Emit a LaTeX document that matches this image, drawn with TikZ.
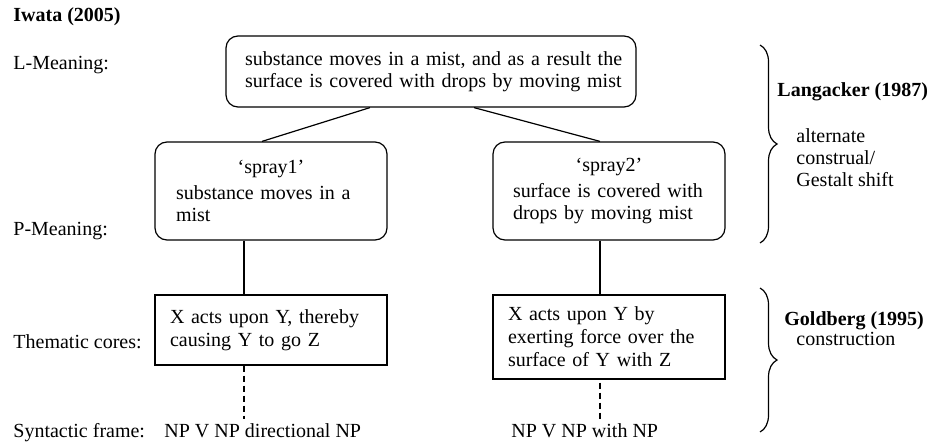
\documentclass[tikz,border=0pt]{standalone}
\usepackage{fontspec}
\setmainfont{Liberation Serif}
\usetikzlibrary{decorations.pathreplacing,calc}
\begin{document}
\begin{tikzpicture}[x=0.5pt,y=-0.5pt,
  font=\fontsize{10}{11}\selectfont,
  lbl/.style={anchor=base west, inner sep=0pt},
  boldlbl/.style={anchor=base west, inner sep=0pt, font=\fontsize{10}{11}\selectfont\bfseries},
  mbox/.style={draw, line width=0.6pt, align=left, inner ysep=0pt, anchor=center},
  rnd/.style={rounded corners=6pt},
  conn/.style={line width=0.6pt},
  dashline/.style={line width=0.6pt, dash pattern=on 3pt off 2pt},
  bracestyle/.style={decorate, decoration={brace, amplitude=8.5pt}, line width=0.6pt}]
\useasboundingbox (0,0) rectangle (930,444);

% left labels
\node[boldlbl] (iwata) at (13,22) {Iwata (2005)};
\node[lbl] (lmean) at (13,70) {L-Meaning:};
\node[lbl] (pmean) at (13,235) {P-Meaning:};
\node[lbl] (thcore) at (13,348) {Thematic cores:};
\node[lbl] (synfr) at (13,437) {Syntactic frame:};

% boxes
\node[mbox, rnd, text width=186pt, inner xsep=9.5pt, minimum height=35.5pt] (top) at (431,71.5)
  {\mbox{substance moves in a mist, and as a result the}\\\mbox{surface is covered with drops by moving mist}};
\node[mbox, rnd, text width=95pt, inner xsep=10.5pt, minimum height=49pt] (sp1) at (271,191)
  {\makebox[\hsize]{‘spray1’}\\[2pt]\mbox{substance moves in a}\\mist};
\node[mbox, rnd, text width=96pt, inner xsep=10pt, minimum height=49pt] (sp2) at (609,191)
  {\makebox[\hsize]{‘spray2’}\\[2pt]\mbox{surface is covered with}\\\mbox{drops by moving mist}};
\node[mbox, text width=101pt, inner xsep=7.5pt, minimum height=35pt, font=\fontsize{10}{11.5}\selectfont] (th1) at (271,330)
  {\mbox{X acts upon Y, thereby}\\\mbox{causing Y to go Z}};
\node[mbox, text width=101pt, inner xsep=7.5pt, minimum height=42pt, font=\fontsize{10}{11.5}\selectfont] (th2) at (609,337)
  {\mbox{X acts upon Y by}\\\mbox{exerting force over the}\\\mbox{surface of Y with Z}};

% syntactic frames
\node[lbl] (f1) at (164,437) {NP V NP directional NP};
\node[lbl] (f2) at (511,437) {NP V NP with NP};

% connectors
\draw[conn] ([xshift=-30.5pt]top.south) -- ([xshift=-4.5pt]sp1.north);
\draw[conn] ([xshift=21.5pt]top.south) -- ([xshift=-4.5pt]sp2.north);
\draw[conn] ([xshift=-13.5pt]sp1.south) -- ([xshift=-13.5pt]th1.north);
\draw[conn] ([xshift=-4.5pt]sp2.south) -- ([xshift=-4.5pt]th2.north);
\coordinate (d1) at ([xshift=-13.5pt]th1.south);
\coordinate (d2) at ([xshift=-4.5pt,yshift=-1.5pt]th2.south);
\draw[dashline] (d1) -- ([yshift=2pt]d1 |- f1.north);
\draw[dashline] (d2) -- ([yshift=2pt]d2 |- f2.north);

% braces
\coordinate (b1t) at (760,45);
\coordinate (b1b) at (760,243);
\coordinate (b2t) at (760,288);
\coordinate (b2b) at (760,432);
\draw[bracestyle] (b1t) -- (b1b);
\draw[bracestyle] (b2t) -- (b2b);

% right labels
\node[boldlbl] (lang) at (777,97) {Langacker (1987)};
\node[anchor=west, inner sep=0pt, align=left] (alt) at (796,158)
  {alternate\\construal/\\Gestalt shift};
\node[boldlbl] (gold) at (784,325) {Goldberg (1995)};
\node[lbl] (constr) at (796,345) {construction};
\end{tikzpicture}
\end{document}
